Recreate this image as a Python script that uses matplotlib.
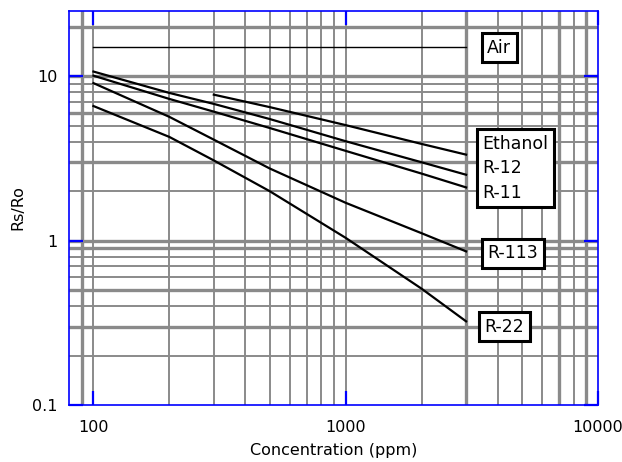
import numpy as np
import matplotlib
matplotlib.use('Agg')
import matplotlib.pyplot as plt

plt.rcParams['font.family'] = ['DejaVu Sans']

# sensitivity curves, Rs/Ro vs concentration (ppm)
conc        = [100, 200, 300, 500, 1000, 2000, 3000]
r12         = [10.7, 7.93, 6.8, 5.5, 4.03, 3.0, 2.52]
r11         = [10.1, 7.29, 6.1, 4.85, 3.52, 2.56, 2.11]
r113        = [9.1, 5.67, 4.12, 2.75, 1.7, 1.11, 0.861]
r22         = [6.6, 4.28, 3.08, 2.0, 1.04, 0.51, 0.323]
conc_eth    = [300, 500, 1000, 2000, 3000]
ethanol     = [7.74, 6.5, 5.05, 3.88, 3.34]
conc_air    = [100, 3000]
air         = [15.2, 15.2]

xticks      = [100, 1000, 10000]
xticklabels = ['100', '1000', '10000']
yticks      = [0.1, 1, 10]
yticklabels = ['0.1', '1', '10']

# grid lines as drawn on the chart (thick ones separate)
xgrid       = [100, 200, 300, 400, 500, 600, 700, 800, 900, 1000,
               2000, 4000, 5000, 6000, 8000]
xgrid_thick = [90, 3000, 7000, 9000]
ygrid       = [0.2, 0.4, 0.6, 0.7, 0.8, 2, 4, 5, 7, 8, 9]
ygrid_thick = [0.3, 0.5, 0.9, 1, 3, 6, 10, 20]

gridcol = '#8a8a8a'
blue = '#0000ff'

fig = plt.figure(figsize=(6.22, 4.62), dpi=100)
ax = fig.add_axes([69/622, 1-405/462, (598-69)/622, (405-11)/462])
ax.set_xscale('log')
ax.set_yscale('log')
ax.set_xlim(80, 10000)
ax.set_ylim(0.1, 25)

for v in xgrid:
    ax.axvline(v, color=gridcol, lw=1.4, zorder=1)
for v in xgrid_thick:
    ax.axvline(v, color=gridcol, lw=2.4, zorder=1)
for v in ygrid:
    ax.axhline(v, color=gridcol, lw=1.4, zorder=1)
for v in ygrid_thick:
    ax.axhline(v, color=gridcol, lw=2.4, zorder=1)

ax.plot(conc_air, air, color='black', lw=1.0, zorder=3)
ax.plot(conc_eth, ethanol, color='black', lw=1.6, zorder=3)
ax.plot(conc, r12, color='black', lw=1.6, zorder=3)
ax.plot(conc, r11, color='black', lw=1.6, zorder=3)
ax.plot(conc, r113, color='black', lw=1.6, zorder=3)
ax.plot(conc, r22, color='black', lw=1.6, zorder=3)

box = dict(boxstyle='square,pad=0.32', facecolor='white', edgecolor='black', lw=2.2)
ax.text(3640, 14.9, 'Air', fontsize=12.5, va='center', ha='left', bbox=box, zorder=5)
ax.text(3480, 2.76, 'Ethanol\nR-12\nR-11', fontsize=12.5, va='center', ha='left',
        linespacing=1.45, bbox=box, zorder=5)
ax.text(3640, 0.839, 'R-113', fontsize=12.5, va='center', ha='left', bbox=box, zorder=5)
ax.text(3550, 0.30, 'R-22', fontsize=12.5, va='center', ha='left', bbox=box, zorder=5)

ax.set_xticks(xticks)
ax.set_xticklabels(xticklabels)
ax.set_yticks(yticks)
ax.set_yticklabels(yticklabels)
ax.minorticks_off()
ax.tick_params(which='major', direction='in', length=10, width=1.6, color=blue,
               top=True, right=True, labelsize=11.5)
ax.tick_params(axis='x', pad=11)
ax.tick_params(axis='y', pad=8)
for s in ax.spines.values():
    s.set_color(blue)
    s.set_linewidth(1.2)
    s.set_zorder(6)

ax.set_xlabel('Concentration (ppm)', fontsize=11.5)
ax.xaxis.set_label_coords(0.5, -0.096)
ax.set_ylabel('Rs/Ro', fontsize=11.5)
ax.yaxis.set_label_coords(-0.083, 0.5)

fig.savefig('out.png', dpi=100)
